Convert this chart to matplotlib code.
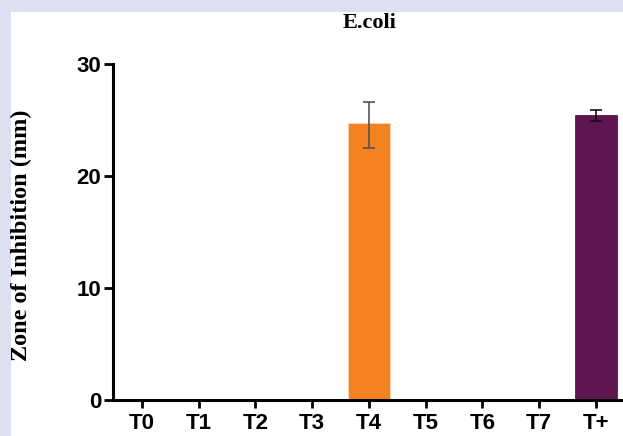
import matplotlib
matplotlib.use('Agg')
import matplotlib.pyplot as plt
from matplotlib.patches import Rectangle

groups = ['T0', 'T1', 'T2', 'T3', 'T4', 'T5', 'T6', 'T7', 'T+']
zone = [0, 0, 0, 0, 24.75, 0, 0, 0, 25.5]
err_low = [0, 0, 0, 0, 2.25, 0, 0, 0, 0.55]
err_high = [0, 0, 0, 0, 1.9, 0, 0, 0, 0.4]
colors = ['#f58220'] * 8 + ['#5e1650']
err_colors = ['#555555'] * 8 + ['#111111']

fig = plt.figure(figsize=(6.23, 4.36), dpi=100)
fig.patch.set_facecolor('#dde0f0')
fig.patches.append(Rectangle((11 / 623, 0), 1, (436 - 12) / 436,
                             transform=fig.transFigure, facecolor='white',
                             edgecolor='none', zorder=-5))

ax = fig.add_axes([113 / 623, 36 / 436, 1 - 113 / 623, 335.5 / 436])
ax.set_facecolor('none')
ax.set_zorder(2)

x = list(range(len(groups)))
for i in x:
    if zone[i] > 0:
        ax.bar(i, zone[i], width=0.74, color=colors[i], edgecolor='#fbd9bd' if i == 4 else colors[i],
               linewidth=0.6, zorder=2)
        ax.errorbar(i, zone[i], yerr=[[err_low[i]], [err_high[i]]], fmt='none', ecolor=err_colors[i],
                    elinewidth=1.2, capsize=4.5, capthick=1.2, zorder=3)

ax.set_xlim(-0.51, 8.48)
ax.set_ylim(0, 30)
ax.set_yticks([0, 10, 20, 30])
ax.set_xticks(x)
ax.set_xticklabels(groups)

for s in ['top', 'right']:
    ax.spines[s].set_visible(False)
for s in ['left', 'bottom']:
    ax.spines[s].set_linewidth(2.2)
ax.tick_params(axis='y', length=6.5, width=2, labelsize=16, pad=2)
ax.tick_params(axis='x', length=6, width=2, labelsize=16, pad=3)
for lab in ax.get_xticklabels() + ax.get_yticklabels():
    lab.set_fontfamily('Liberation Sans')
    lab.set_fontweight('bold')

ax.set_ylabel('Zone of Inhibition (mm)', fontfamily='Liberation Serif',
              fontweight='bold', fontsize=17.5)
ax.yaxis.set_label_coords(-0.158, 0.49)
fig.text(370 / 623, 1 - 23 / 436, 'E.coli', ha='center', va='center',
         fontfamily='Liberation Serif', fontweight='bold', fontsize=16)

fig.savefig('out.png', dpi=100, facecolor=fig.get_facecolor())
